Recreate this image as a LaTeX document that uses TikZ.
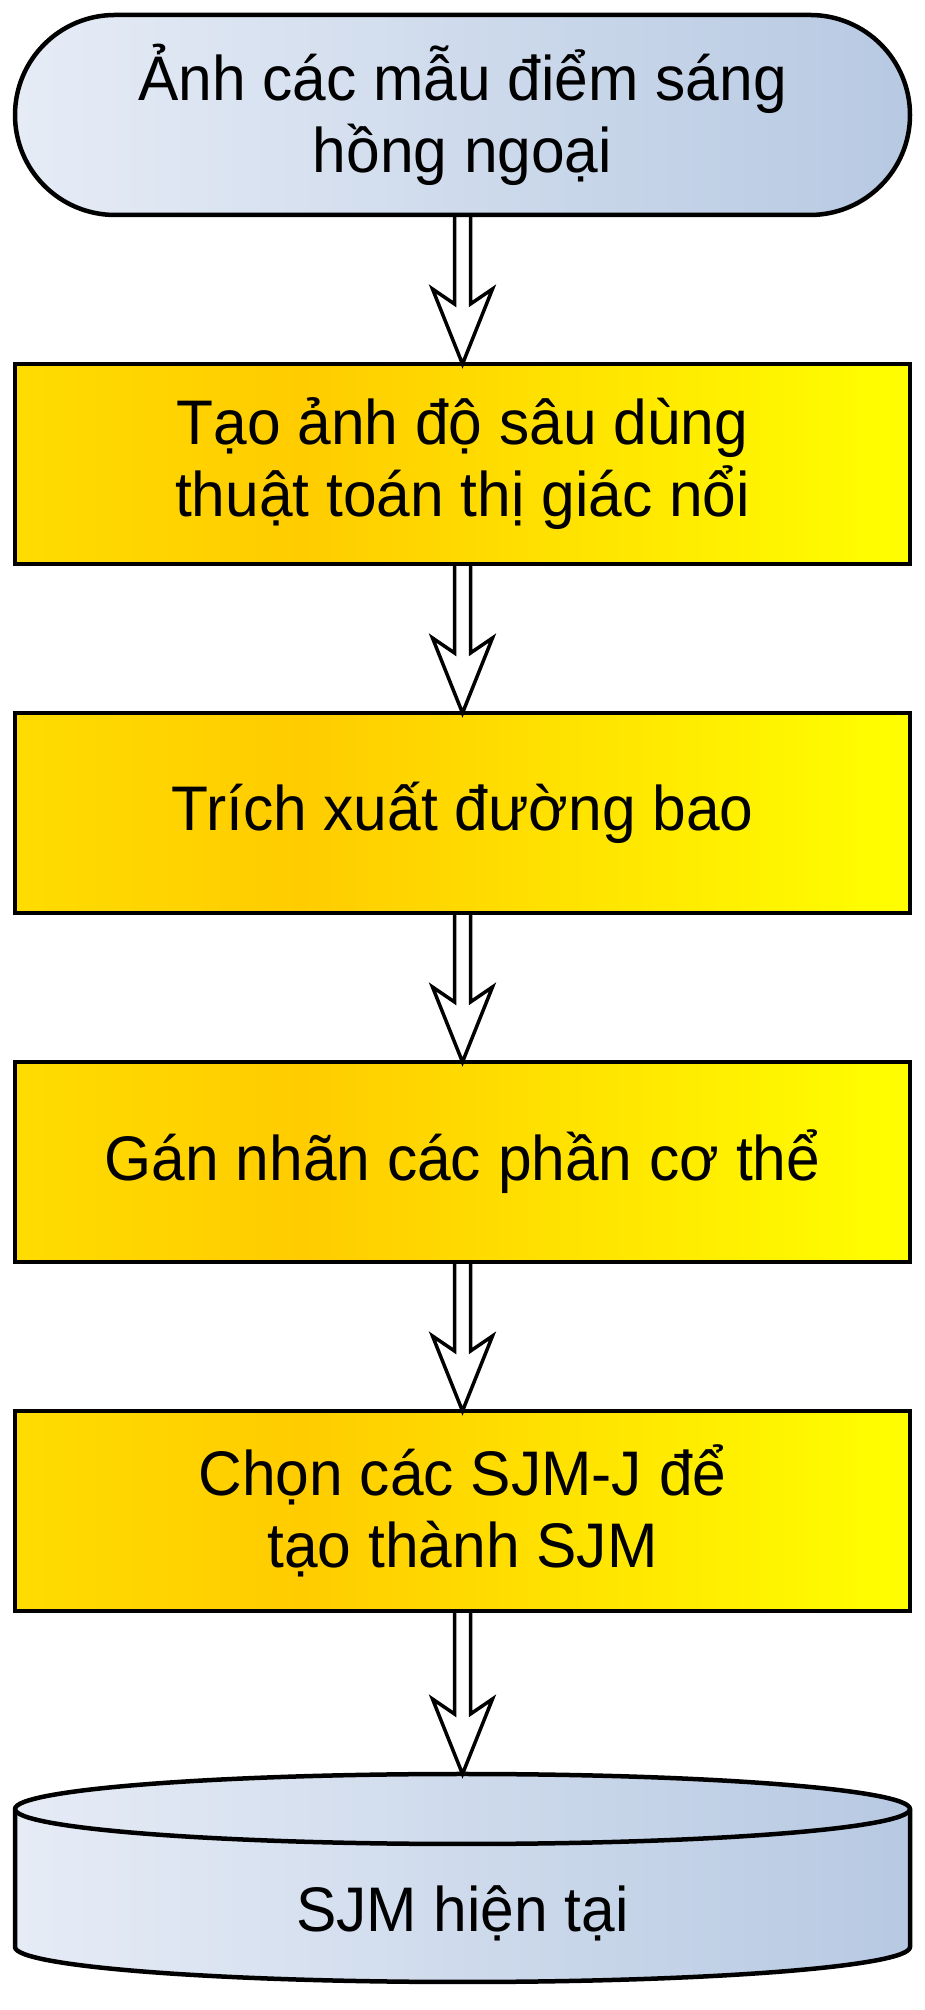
\documentclass[tikz,border=0pt]{standalone}
\usepackage{fontspec}
\setmainfont{Liberation Sans}[FakeStretch=0.96]
\usepackage{tikz}
\usetikzlibrary{shapes,positioning,calc,backgrounds}

\definecolor{paleblue}{HTML}{E6ECF6}
\definecolor{steelblue}{HTML}{B7C9E2}
\definecolor{goldleft}{HTML}{FFDC00}
\definecolor{goldmid}{HTML}{FFCC00}
\definecolor{goldright}{HTML}{FFFF00}

\pgfdeclarehorizontalshading{goldfade}{100bp}{color(0bp)=(goldleft); color(25bp)=(goldleft); color(41bp)=(goldmid); color(75bp)=(goldright); color(100bp)=(goldright)}

% hollow double arrow from a node to a target point
\newcommand{\flowarrow}[2]{%
	\draw[flow] ($(#1.south)+(-8,0)$) -- ($(#2)+(-8,60)$) -- ($(#2)+(-30,75)$) -- (#2)
		-- ($(#2)+(30,75)$) -- ($(#2)+(8,60)$) -- ($(#1.south)+(8,0)$);}

\begin{document}
\begin{tikzpicture}[
		x=1pt, y=1pt,
		font=\fontsize{63}{72}\selectfont,
		terminal/.style={
			rectangle,
			rounded corners=100pt,
			draw,
			line width=4.5pt,
			left color=paleblue,
			right color=steelblue,
			minimum width=895pt,
			minimum height=200pt,
			outer sep=0pt,
			align=center
			},
		block/.style={
			rectangle,
			draw,
			line width=4.5pt,
			shading=goldfade,
			minimum width=895pt,
			minimum height=200pt,
			outer sep=0pt,
			align=center
			},
		store/.style={
			rectangle,
			minimum width=895pt,
			minimum height=138pt,
			outer sep=0pt
			},
		flow/.style={
			draw,
			line width=3.5pt,
			miter limit=10
			}]
	    \useasboundingbox (0,0) rectangle (925,2010);
	    % Place nodes
	    \node [terminal] (input) at (462.5,1895) {Ảnh các mẫu điểm sáng\\hồng ngoại};
	    \node [block, below=149pt of input] (depth) {Tạo ảnh độ sâu dùng\\thuật toán thị giác nổi};
	    \node [block, below=149pt of depth] (contour) {Trích xuất đường bao};
	    \node [block, below=149pt of contour] (label) {Gán nhãn các phần cơ thể};
	    \node [block, below=149pt of label] (select) {Chọn các SJM-J để\\tạo thành SJM};
	    \node [store, below=233pt of select] (current) {SJM hiện tại};
	    \coordinate (currenttop) at ($(current.north)+(0,70)$);

	    % Draw the cylinder
	    \begin{scope}[on background layer]
	    	\path [left color=paleblue, right color=steelblue, draw, line width=4.5pt]
	    		($(current.south west)+(0,35)$) -- ($(current.north west)+(0,35)$)
	    		arc[start angle=180, end angle=0, x radius=447.5pt, y radius=35pt]
	    		-- ($(current.south east)+(0,35)$)
	    		arc[start angle=0, end angle=-180, x radius=447.5pt, y radius=35pt] -- cycle;
	    	\draw [line width=4.5pt] ($(current.north west)+(0,35)$)
	    		arc[start angle=180, end angle=360, x radius=447.5pt, y radius=35pt];
	    \end{scope}

	    % Draw edges
	    \flowarrow{input}{depth.north}
	    \flowarrow{depth}{contour.north}
	    \flowarrow{contour}{label.north}
	    \flowarrow{label}{select.north}
	    \flowarrow{select}{currenttop}
	\end{tikzpicture}
\end{document}
